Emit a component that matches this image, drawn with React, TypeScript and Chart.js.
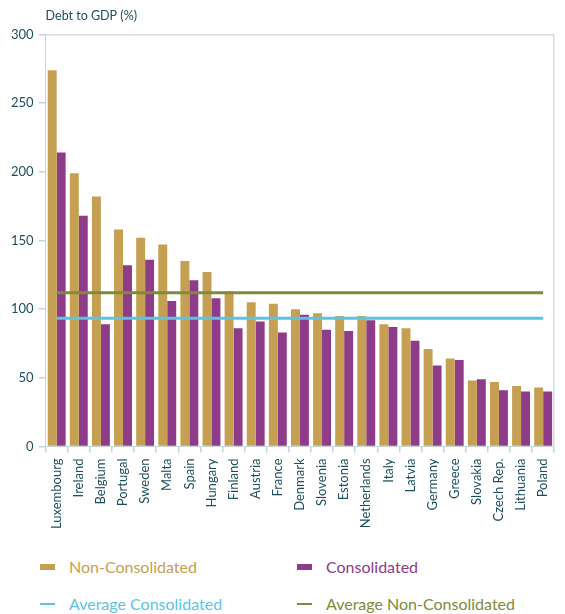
import React, { useEffect, useRef } from "react";
import { Chart, registerables } from "chart.js";

Chart.register(...registerables);

const countries = [
  "Luxembourg", "Ireland", "Belgium", "Portugal", "Sweden", "Malta", "Spain", "Hungary",
  "Finland", "Austria", "France", "Denmark", "Slovenia", "Estonia", "Netherlands", "Italy",
  "Latvia", "Germany", "Greece", "Slovakia", "Czech Rep.", "Lithuania", "Poland",
];
const nonConsolidated = [
  274, 199, 182, 158, 152, 147, 135, 127, 113, 105, 104, 100, 97, 95, 95, 89, 86, 71, 64, 48, 47, 44, 43,
];
const consolidated = [
  214, 168, 89, 132, 136, 106, 121, 108, 86, 91, 83, 96, 85, 84, 92, 87, 77, 59, 63, 49, 41, 40, 40,
];
const avgConsolidated = 93.3;
const avgNonConsolidated = 112;
const yTicks = [0, 50, 100, 150, 200, 250, 300];

const GOLD = "#C6A052";
const PURPLE = "#8E3B8A";
const BLUE = "#5CC4E1";
const OLIVE = "#7F8A3A";
const TEXT = "#1E4D5C";
const AXIS = "#C9D4D8";
const FONT = "Lato";

export default function App() {
  const ref = useRef<HTMLCanvasElement | null>(null);

  useEffect(() => {
    if (!ref.current) return;
    const chart = new Chart(ref.current, {
      type: "bar",
      data: {
        labels: countries,
        datasets: [
          {
            type: "line",
            label: "Average Consolidated",
            data: countries.map(() => avgConsolidated),
            borderColor: BLUE,
            borderWidth: 3,
            pointRadius: 0,
            order: 0,
          } as any,
          {
            type: "line",
            label: "Average Non-Consolidated",
            data: countries.map(() => avgNonConsolidated),
            borderColor: OLIVE,
            borderWidth: 3,
            pointRadius: 0,
            order: 0,
          } as any,
          {
            label: "Non-Consolidated",
            data: nonConsolidated,
            backgroundColor: GOLD,
            categoryPercentage: 0.81,
            barPercentage: 1,
            order: 1,
          },
          {
            label: "Consolidated",
            data: consolidated,
            backgroundColor: PURPLE,
            categoryPercentage: 0.81,
            barPercentage: 1,
            order: 1,
          },
        ],
      },
      options: {
        responsive: false,
        animation: false,
        layout: { padding: { left: 6, right: 9, top: 0, bottom: 0 } },
        plugins: {
          legend: { display: false },
          tooltip: { enabled: false },
          title: {
            display: true,
            text: "Debt to GDP (%)",
            align: "start",
            fullSize: false,
            color: TEXT,
            font: { family: FONT, size: 12.5, weight: "normal" },
            padding: { top: 8, bottom: 11.5 },
          },
        },
        scales: {
          x: {
            grid: {
              display: true,
              offset: true,
              color: (ctx: any) => (ctx.tick ? "transparent" : "#D3DDE1"),
              lineWidth: 1.5,
              tickColor: AXIS,
              tickLength: 6,
            },
            border: { display: true, color: AXIS, width: 1 },
            ticks: {
              color: TEXT,
              font: { family: FONT, size: 13 },
              maxRotation: 90,
              minRotation: 90,
              autoSkip: false,
              padding: 6,
            },
          },
          y: {
            min: 0,
            max: 300,
            afterBuildTicks: (axis: any) => {
              axis.ticks = yTicks.map((v) => ({ value: v }));
            },
            grid: {
              color: (ctx: any) => (ctx.tick && ctx.tick.value === 300 ? "#D3DDE1" : "transparent"),
              lineWidth: 1.5,
              tickColor: AXIS,
              tickLength: 7,
            },
            border: { display: true, color: AXIS, width: 1 },
            ticks: {
              color: TEXT,
              font: { family: FONT, size: 13 },
              padding: 5,
            },
          },
        },
      },
    });
    return () => chart.destroy();
  }, []);

  const item = (left: number, top: number, color: string, text: string, kind: "box" | "line") => (
    <div style={{ position: "absolute", left, top, display: "flex", alignItems: "center" }}>
      <div
        style={{
          width: 15,
          height: kind === "box" ? 6 : 2,
          background: color,
          marginRight: 14,
        }}
      />
      <span style={{ color, fontFamily: FONT, fontSize: 16, lineHeight: "20px", whiteSpace: "nowrap" }}>{text}</span>
    </div>
  );

  return (
    <div style={{ position: "absolute", left: 0, top: 0, width: 565, height: 614, background: "#fff" }}>
      <canvas ref={ref} width={565} height={535} style={{ display: "block" }} />
      {item(40, 557, GOLD, "Non-Consolidated", "box")}
      {item(297, 557, PURPLE, "Consolidated", "box")}
      {item(40, 594, BLUE, "Average Consolidated", "line")}
      {item(297, 594, OLIVE, "Average Non-Consolidated", "line")}
    </div>
  );
}
